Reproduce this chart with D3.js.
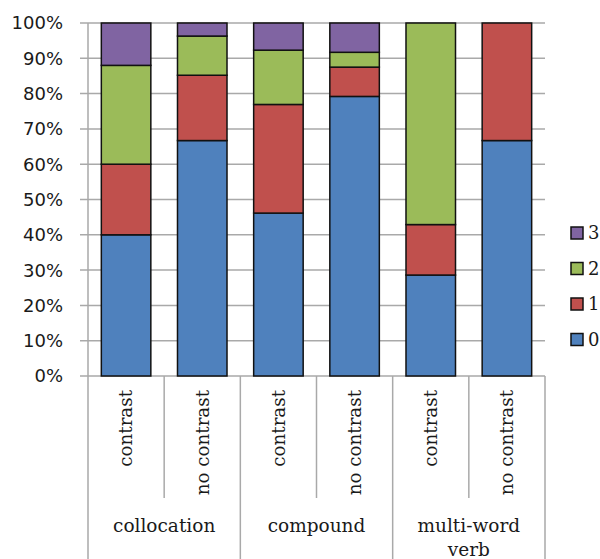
<!DOCTYPE html>
<html>
<head>
<meta charset="utf-8">
<script src="https://cdn.jsdelivr.net/npm/d3@7"></script>
<style>
  html, body { margin: 0; padding: 0; background: #fff; }
  svg { display: block; }
  .serif { font-family: 'DejaVu Serif', 'Liberation Serif', serif; }
  .sans { font-family: 'DejaVu Sans', sans-serif; }
</style>
</head>
<body>
<svg id="chart" width="600" height="559"></svg>
<script>
// Bars, in order, with their group
const groups = ["collocation", "compound", "multi-word verb"];
const conditions = ["contrast", "no contrast"];
const barGroup = ["collocation", "collocation", "compound", "compound", "multi-word verb", "multi-word verb"];
const barCondition = ["contrast", "no contrast", "contrast", "no contrast", "contrast", "no contrast"];

// Share (%) of each score per bar
const score0 = [40.0, 66.7, 46.2, 79.2, 28.6, 66.7];
const score1 = [20.0, 18.5, 30.8, 8.3, 14.3, 33.3];
const score2 = [28.0, 11.1, 15.4, 4.2, 57.1, 0];
const score3 = [12.0, 3.7, 7.7, 8.3, 0, 0];

const seriesKeys = ["0", "1", "2", "3"];
const seriesColors = ["#4F81BD", "#C0504D", "#9BBB59", "#8064A2"];
const yTicks = [0, 0.1, 0.2, 0.3, 0.4, 0.5, 0.6, 0.7, 0.8, 0.9, 1.0];

const rows = barGroup.map((g, i) => ({
  id: i, group: g, condition: barCondition[i],
  "0": score0[i], "1": score1[i], "2": score2[i], "3": score3[i]
}));

const svg = d3.select("#chart");
const plotLeft = 88, plotRight = 545, plotTop = 23, plotBottom = 376;

const x = d3.scaleBand().domain(rows.map(d => d.id)).range([plotLeft, plotRight])
  .paddingInner(0.35).paddingOuter(0.175);
const step = (plotRight - plotLeft) / rows.length;
const y = d3.scaleLinear().domain([0, 1]).range([plotBottom, plotTop]);
const color = d3.scaleOrdinal().domain(seriesKeys).range(seriesColors);

const stacked = d3.stack().keys(seriesKeys).offset(d3.stackOffsetExpand)(rows);

const gridColor = "#a9a9a9";

// horizontal gridlines with small outward ticks
svg.append("g").selectAll("line").data(yTicks).join("line")
  .attr("x1", plotLeft - 8).attr("x2", plotRight)
  .attr("y1", d => y(d)).attr("y2", d => y(d))
  .attr("stroke", gridColor).attr("stroke-width", 1.5);

// y axis line
svg.append("line").attr("x1", plotLeft).attr("x2", plotLeft)
  .attr("y1", plotTop).attr("y2", 559)
  .attr("stroke", gridColor).attr("stroke-width", 1.5);

// y labels
svg.append("g").selectAll("text").data(yTicks).join("text")
  .attr("class", "sans")
  .attr("x", 63).attr("y", d => y(d)).attr("dy", "0.36em")
  .attr("text-anchor", "end")
  .attr("font-size", 18)
  .attr("fill", "#1a1a1a")
  .text(d3.format(".0%"));

// separators below the axis: short between bars, long between groups
const bounds = d3.range(1, rows.length + 1);
svg.append("g").selectAll("line").data(bounds).join("line")
  .attr("x1", i => plotLeft + i * step).attr("x2", i => plotLeft + i * step)
  .attr("y1", plotBottom).attr("y2", i => (i % 2 === 0 ? 559 : 498))
  .attr("stroke", gridColor).attr("stroke-width", 1.5);

// stacked bars
svg.append("g").selectAll("g").data(stacked).join("g")
  .attr("fill", d => color(d.key))
  .selectAll("rect").data(d => d.filter(s => s[1] - s[0] > 0)).join("rect")
  .attr("x", d => x(d.data.id))
  .attr("width", x.bandwidth())
  .attr("y", d => y(d[1]))
  .attr("height", d => y(d[0]) - y(d[1]))
  .attr("stroke", "#111").attr("stroke-width", 1.5);

// condition labels (rotated)
svg.append("g").selectAll("text").data(rows).join("text")
  .attr("class", "serif")
  .attr("transform", d => `translate(${x(d.id) + x.bandwidth() / 2},390) rotate(-90)`)
  .attr("dy", "0.35em")
  .attr("text-anchor", "end")
  .attr("font-size", 18.3)
  .attr("fill", "#1a1a1a")
  .text(d => d.condition);

// group labels
const groupLines = { "collocation": ["collocation"], "compound": ["compound"], "multi-word verb": ["multi-word", "verb"] };
groups.forEach((g, gi) => {
  const cx = plotLeft + (gi * 2 + 1) * step;
  const t = svg.append("text")
    .attr("class", "serif")
    .attr("x", cx).attr("y", 532)
    .attr("text-anchor", "middle")
    .attr("font-size", 18.5)
    .attr("fill", "#1a1a1a");
  groupLines[g].forEach((line, li) => {
    t.append("tspan").attr("x", cx).attr("y", 532 + li * 24).text(line);
  });
});

// legend (top-down: 3, 2, 1, 0)
const legendKeys = seriesKeys.slice().reverse();
const lg = svg.append("g").selectAll("g").data(legendKeys).join("g")
  .attr("transform", (d, i) => `translate(571,${233 + i * 35.5})`);
lg.append("rect").attr("x", 0).attr("y", -6).attr("width", 12).attr("height", 12)
  .attr("fill", d => color(d)).attr("stroke", "#111").attr("stroke-width", 1.5);
lg.append("text").attr("class", "serif").attr("x", 17).attr("y", 0).attr("dy", "0.35em")
  .attr("font-size", 18)
  .attr("fill", "#1a1a1a")
  .text(d => d);
</script>
</body>
</html>
